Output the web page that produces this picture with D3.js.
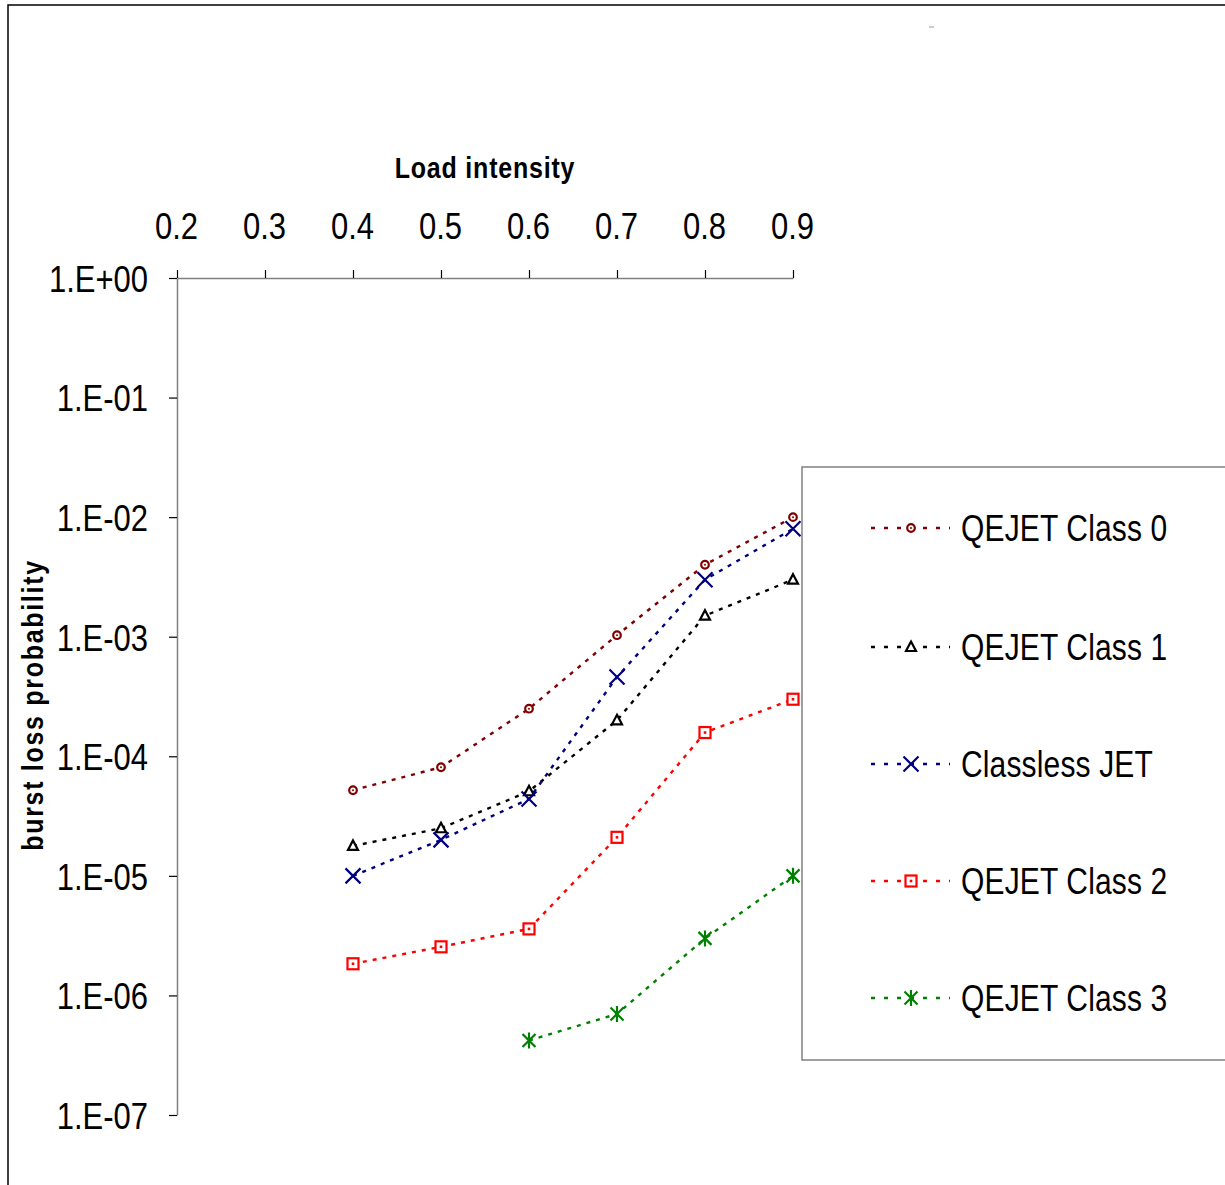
<!DOCTYPE html>
<html>
<head>
<meta charset="utf-8">
<script src="https://cdn.jsdelivr.net/npm/d3@7"></script>
<style>
  body { margin: 0; background: #fff; }
  svg text { font-family: "Liberation Sans", Arial, sans-serif; }
</style>
</head>
<body>
<svg id="chart" width="1225" height="1185"></svg>
<script>
const loads = [0.4, 0.5, 0.6, 0.7, 0.8, 0.9];
const xTicks = [0.2, 0.3, 0.4, 0.5, 0.6, 0.7, 0.8, 0.9];
const yTicks = [1, 1e-1, 1e-2, 1e-3, 1e-4, 1e-5, 1e-6, 1e-7];

const class0 = [5.2e-5, 8.1e-5, 2.5e-4, 1.03e-3, 4.0e-3, 1.0e-2];
const class1 = [1.78e-5, 2.5e-5, 5.1e-5, 2.0e-4, 1.5e-3, 3.0e-3];
const classless = [1.0e-5, 2.0e-5, 4.4e-5, 4.6e-4, 3.0e-3, 8.0e-3];
const class2 = [1.84e-6, 2.55e-6, 3.6e-6, 2.1e-5, 1.58e-4, 3.0e-4];
const class3 = [null, null, 4.2e-7, 7.0e-7, 3.0e-6, 1.0e-5];

const seriesNames = ['QEJET Class 0', 'QEJET Class 1', 'Classless JET', 'QEJET Class 2', 'QEJET Class 3'];
const seriesValues = [class0, class1, classless, class2, class3];
const seriesColors = ['#800000', '#000000', '#000080', '#ff0000', '#008000'];
const seriesMarkers = ['circle', 'triangle', 'x', 'square', 'star'];

const svg = d3.select('#chart');

// outer frame
svg.append('rect')
  .attr('x', 8).attr('y', 5).attr('width', 1240).attr('height', 1200)
  .attr('fill', 'none').attr('stroke', '#000').attr('stroke-width', 1.5);
svg.append('line')
  .attr('x1', 929).attr('x2', 934).attr('y1', 27).attr('y2', 27)
  .attr('stroke', '#999').attr('stroke-width', 1);

const x = d3.scaleLinear().domain([0.2, 0.9]).range([177, 793]);
const y = d3.scaleLog().domain([1, 1e-7]).range([278, 1115]);

// x axis on top
const gx = svg.append('g').attr('transform', `translate(0,${y(1)})`)
  .call(d3.axisTop(x).tickValues(xTicks).tickSize(8).tickSizeOuter(0).tickFormat(d3.format('.1f')));
gx.select('.domain').attr('stroke', '#808080').attr('stroke-width', 1.5);
gx.selectAll('.tick line').attr('stroke', '#000').attr('stroke-width', 1.2);
gx.selectAll('.tick text')
  .attr('font-size', 31).attr('fill', '#000').attr('y', 0)
  .attr('transform', 'translate(-1,-39) scale(1,1.2)');

// y axis on the left
const fmtY = d => {
  const e = Math.round(Math.log10(d));
  return '1.E' + (e < 0 ? '-' : '+') + String(Math.abs(e)).padStart(2, '0');
};
const gy = svg.append('g').attr('transform', `translate(${x(0.2)},0)`)
  .call(d3.axisLeft(y).tickValues(yTicks).tickSize(8).tickSizeOuter(0).tickFormat(fmtY));
gy.select('.domain').attr('stroke', '#808080').attr('stroke-width', 1.5);
gy.selectAll('.tick line').attr('stroke', '#000').attr('stroke-width', 1.2);
gy.selectAll('.tick text')
  .attr('font-size', 31).attr('fill', '#000').attr('x', 0).attr('dy', '0.36em')
  .attr('transform', 'translate(-29,0) scale(1,1.2)');

// axis titles
svg.append('text')
  .attr('transform', 'translate(485,178) scale(1,1.2)')
  .attr('text-anchor', 'middle').attr('font-size', 25).attr('font-weight', 'bold')
  .attr('letter-spacing', 0.8)
  .text('Load intensity');
svg.append('text')
  .attr('transform', 'translate(43,705) rotate(-90) scale(1,1.2)')
  .attr('text-anchor', 'middle').attr('font-size', 25).attr('font-weight', 'bold')
  .attr('letter-spacing', 1.7)
  .text('burst loss probability');

function drawMarker(g, type, color) {
  if (type === 'circle') {
    g.append('circle').attr('r', 3.8).attr('fill', '#fff').attr('stroke', color).attr('stroke-width', 2.2);
    g.append('circle').attr('r', 1).attr('fill', color);
  } else if (type === 'triangle') {
    g.append('path').attr('d', 'M0,-5.5L5,4L-5,4Z')
      .attr('fill', '#fff').attr('stroke', color).attr('stroke-width', 2.2);
  } else if (type === 'x') {
    g.append('path').attr('d', 'M-7.5,-7.5L7.5,7.5M-7.5,7.5L7.5,-7.5')
      .attr('stroke', color).attr('stroke-width', 2.2);
  } else if (type === 'square') {
    g.append('rect').attr('x', -5.5).attr('y', -5.5).attr('width', 11).attr('height', 11)
      .attr('fill', '#fff').attr('stroke', color).attr('stroke-width', 2.2);
    g.append('rect').attr('x', -1.3).attr('y', -1.3).attr('width', 2.6).attr('height', 2.6).attr('fill', color);
  } else if (type === 'star') {
    g.append('path').attr('d', 'M-6.5,-6.5L6.5,6.5M-6.5,6.5L6.5,-6.5M0,-8L0,8')
      .attr('stroke', color).attr('stroke-width', 2.2);
  }
}

const line = d3.line()
  .defined(d => d.v != null)
  .x(d => x(d.load))
  .y(d => y(d.v));

seriesValues.forEach((vals, i) => {
  const pts = loads.map((load, j) => ({ load, v: vals[j] }));
  svg.append('path')
    .datum(pts)
    .attr('d', line)
    .attr('fill', 'none')
    .attr('stroke', seriesColors[i])
    .attr('stroke-width', 2.4)
    .attr('stroke-dasharray', '4,6');
  pts.filter(d => d.v != null).forEach(d => {
    const g = svg.append('g').attr('transform', `translate(${x(d.load)},${y(d.v)})`);
    drawMarker(g, seriesMarkers[i], seriesColors[i]);
  });
});

// legend
svg.append('rect')
  .attr('x', 802).attr('y', 467).attr('width', 450).attr('height', 593)
  .attr('fill', '#fff').attr('stroke', '#808080').attr('stroke-width', 1.5);
const legendY = [528, 647, 764, 881, 998];
seriesNames.forEach((name, i) => {
  const ly = legendY[i];
  svg.append('line')
    .attr('x1', 871).attr('x2', 950).attr('y1', ly).attr('y2', ly)
    .attr('stroke', seriesColors[i]).attr('stroke-width', 2.4)
    .attr('stroke-dasharray', '4,9');
  const g = svg.append('g').attr('transform', `translate(911,${ly})`);
  drawMarker(g, seriesMarkers[i], seriesColors[i]);
  svg.append('text')
    .attr('transform', `translate(961,${ly + 13}) scale(1,1.2)`)
    .attr('font-size', 30).attr('fill', '#000')
    .attr('letter-spacing', 0.15)
    .text(name);
});
</script>
</body>
</html>
